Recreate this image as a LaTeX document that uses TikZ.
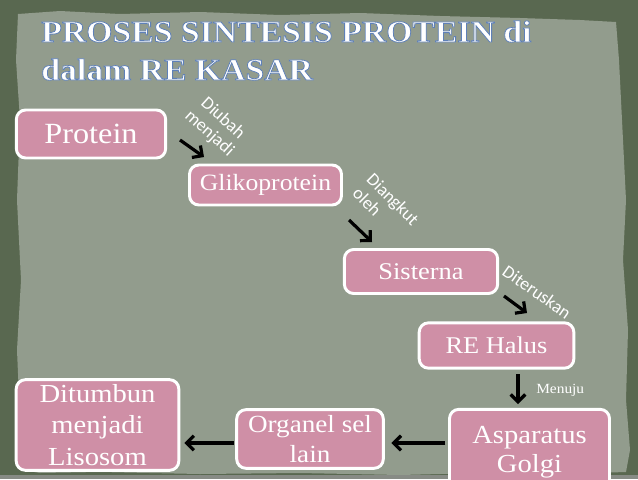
\documentclass[tikz,border=0pt]{standalone}
\usepackage{fontspec}
\setmainfont[FakeStretch=1.1]{Liberation Serif}
\newfontfamily\lblfont{Carlito}
\usetikzlibrary{arrows.meta}
\definecolor{outerg}{HTML}{596850}
\definecolor{paper}{HTML}{929C8D}
\definecolor{boxpink}{HTML}{CF8FA6}
\newcommand\edgetext[1]{\special{pdf:literal q 2 Tr 0.6 w 0.37 0.50 0.72 RG}#1\special{pdf:literal Q}}
\begin{document}
\begin{tikzpicture}[x=0.75pt,y=-0.75pt,
  box/.style={draw=white,line width=2.2pt,fill=boxpink,rounded corners=7pt,
    text=white,align=center,inner sep=0pt},
  arr/.style={draw=black,line width=2.4pt,-{Straight Barb[length=5.5pt,width=11pt]}},
  lbl/.style={text=white,font=\lblfont\fontsize{13.5}{15}\selectfont,inner sep=0pt},
  titlef/.style={text=white,font=\fontsize{23}{27}\selectfont\bfseries,inner sep=0pt,anchor=base west}]
\useasboundingbox (0,0) rectangle (638,479);
\fill[outerg] (0,0) rectangle (638,479);
\fill[paper] (18,14) -- (60,11) -- (120,14) -- (200,12) -- (280,15) -- (360,13) -- (440,16)
  -- (520,18) -- (580,20) -- (616,22) -- (619,60) -- (622,120) -- (626,200) -- (623,260)
  -- (628,330) -- (626,400) -- (630,450) -- (626,472) -- (560,474) -- (480,473) -- (400,475)
  -- (300,473) -- (200,474) -- (100,472) -- (40,473) -- (22,470) -- (20,420) -- (17,350)
  -- (21,280) -- (17,200) -- (20,120) -- (16,60) -- cycle;
\fill[gray!60!paper] (0,475) rectangle (638,479);

% title
\node[titlef] (t1) at (41,42) {\edgetext{PROSES SINTESIS PROTEIN di}};
\node[titlef] (t2) at (41,80) {\edgetext{dalam RE KASAR}};

% boxes
\node[box,minimum width=112pt,minimum height=36pt,font=\fontsize{22}{24}\selectfont] (prot) at (91,134) {Protein};
\node[box,minimum width=114pt,minimum height=30pt,font=\fontsize{17.5}{20}\selectfont] (glik) at (265.5,185) {Glikoprotein};
\node[box,minimum width=115pt,minimum height=33pt,font=\fontsize{18}{20}\selectfont] (sis) at (421,271.5) {Sisterna};
\node[box,minimum width=116pt,minimum height=34pt,font=\fontsize{18}{20}\selectfont] (reh) at (496.5,345.5) {RE Halus};
\node[box,minimum width=120pt,minimum height=64pt,font=\fontsize{19.5}{22}\selectfont] (asp) at (529.5,452) {Asparatus\\Golgi};
\node[box,minimum width=110pt,minimum height=44pt,font=\fontsize{18.5}{22.5}\selectfont] (org) at (310,439) {Organel sel\\lain};
\node[box,minimum width=122pt,minimum height=68pt,font=\fontsize{19.5}{23.5}\selectfont] (dit) at (97.5,425) {Ditumbun\\menjadi\\Lisosom};

% arrow end points
\coordinate (a1s) at (180,140); \coordinate (a1e) at (204,157);
\coordinate (a2s) at (349,220); \coordinate (a2e) at (372,242);
\coordinate (a3s) at (504,296); \coordinate (a3e) at (527,313);
\coordinate (a4s) at (518,374); \coordinate (a4e) at (518,404);
\draw[arr] (a1s) -- (a1e);
\draw[arr] (a2s) -- (a2e);
\draw[arr] (a3s) -- (a3e);
\draw[arr] (a4s) -- (a4e);
\draw[arr,shorten <=2pt,shorten >=5pt] (asp.west |- 0,443) -- (org.east |- 0,443);
\draw[arr,shorten <=1pt,shorten >=3pt] (org.west |- 0,443) -- (dit.east |- 0,443);

% labels
\node[lbl,align=center,rotate=-42] (l1) at (216,126) {Diubah\\menjadi};
\node[lbl,align=left,rotate=-45] (l2) at (386,206) {Diangkut\\oleh};
\node[lbl,rotate=-35] (l3) at (537,292) {Diteruskan};
\node[text=white,font=\fontsize{10.5}{12}\selectfont,inner sep=0pt,anchor=west] (l4) at (536,390) {Menuju};
\end{tikzpicture}
\end{document}
